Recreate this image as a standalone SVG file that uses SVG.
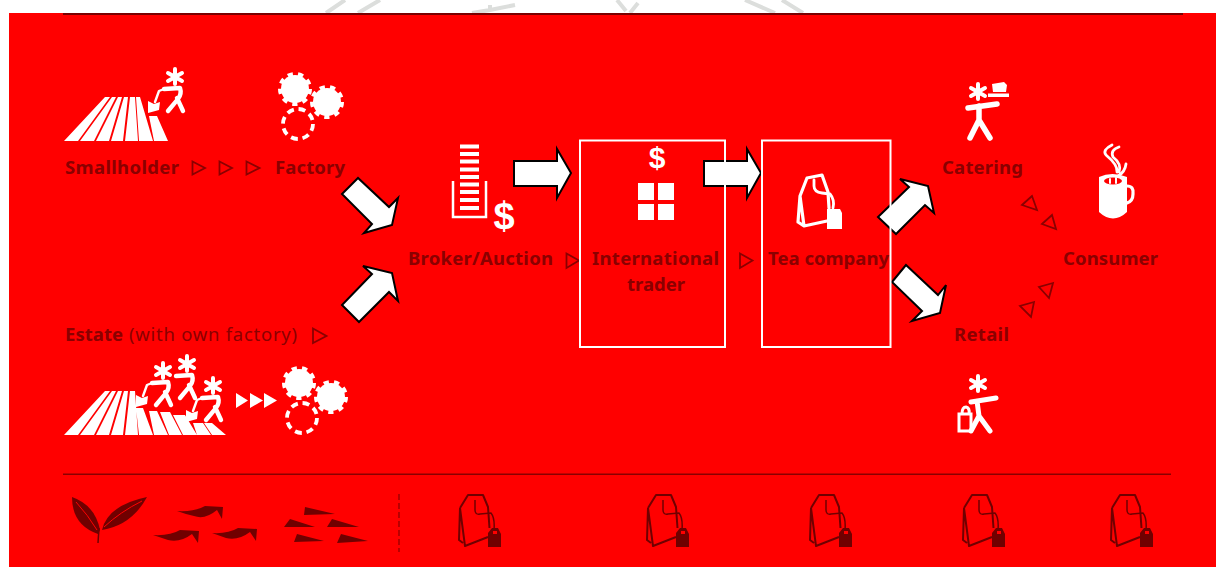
<svg xmlns="http://www.w3.org/2000/svg" xmlns:xlink="http://www.w3.org/1999/xlink" width="1216" height="567" viewBox="0 0 1216 567">
<style>
text{font-family:"Noto Sans","Open Sans","DejaVu Sans",sans-serif;font-size:18.5px;fill:#8a0000}
.b{font-weight:700}
.n{font-weight:400}
.d{font-family:"Liberation Sans",Arial,sans-serif;font-weight:700;fill:#fff}
.big{fill:#fff;stroke:#000;stroke-width:2;stroke-linejoin:miter}
.tri{fill:none;stroke:#8a0000;stroke-width:1.800}
.w{fill:#fff;stroke:none}
.ws{fill:none;stroke:#fff;stroke-linecap:round;stroke-linejoin:round}
.box{fill:none;stroke:#fff;stroke-width:2}
.df{fill:#700000;stroke:none}
.ds{fill:none;stroke:#700000;stroke-linejoin:round}
</style>
<defs>
<g id="star"><path class="ws" stroke-width="4" d="M0-8V7M-7-4L7 4M-7 4L7-4"/><circle class="w" r="4"/></g>
<g id="gear"><circle class="w" r="14"/><circle cx="0" cy="0" r="15" fill="none" stroke="#fff" stroke-width="4" stroke-dasharray="5.240 5.230"/></g>
<circle id="dashgear" r="15" fill="none" stroke="#fff" stroke-width="3.800" stroke-dasharray="7 4.800"/>
<g id="worker"><use xlink:href="#star"/><path class="ws" stroke-width="4.400" d="M-11 12L5 11Q7 17 3 22L-7 34M2 21L8 34"/></g>
<g id="spade"><path class="ws" stroke-width="2.400" d="M-11 12L-16 14L-20 25"/><path class="w" d="M-27 24L-21 27L-15 25L-16 33L-27 36Z"/></g>
<g id="bag">
<path class="ds" stroke-width="2" d="M460 508L468 495H483L488 507L489.500 528M460 508L459 540L463 543M460 508L465 546L488 537"/>
<path class="ds" stroke-width="1.500" d="M475 500V510Q475 515 480 514L491 513Q495 518 494 530"/>
<path class="df" fill-rule="evenodd" d="M492 528H498L501 534V547H488V533ZM493 531V534H497V531Z"/>
</g>
</defs>
<rect width="1216" height="567" fill="#fff"/>
<path d="M326 13L345 0M358 13L380 0M472 13L490 10L515 5M490 5V12M617 0L626 11M630 13L638 3M745 0L775 13M782 0L803 13" stroke="#dcdedc" stroke-width="4" fill="none"/>
<rect x="9" y="13" width="1207" height="554" fill="#f00"/>
<rect x="63" y="13" width="1120" height="2" fill="#7a0000"/>
<rect x="63" y="473.500" width="1108" height="1.500" fill="#8a0000"/>
<path d="M399 494V552" stroke="#8a0000" stroke-width="1.200" stroke-dasharray="6 3" fill="none"/>

<g id="connectors">
<path class="big" d="M342 194L358 178L389 207L398 198L392 225L364 233L372 224Z"/>
<path class="big" d="M342 305L359 322L389 292L398 301L392 273L363 266L372 274Z"/>
<path class="big" d="M514 161H557V149L571 173L557 198V186H514Z"/>
<path class="big" d="M704 161H747V149L761 173L747 198V186H704Z"/>
<path class="big" d="M878 217L896 234L925 205L934 213L928 186L900 179L909 187Z"/>
<path class="big" d="M906 265L892 282L922 311L912 321L940 313L946 285L938 295Z"/>
<path class="tri" d="M192.500 161.500L205 168L192.500 174.500ZM219.500 161.500L232 168L219.500 174.500ZM246.500 161.500L259.500 168L246.500 174.500Z"/>
<path class="tri" d="M313 328.500L326.500 336L313 343Z"/>
<path class="tri" d="M566.500 253.500L579 260.500L566.500 268Z"/>
<path class="tri" d="M740 253.500L752.500 260.500L740 268Z"/>
<path class="tri" d="M1032 196L1022 205L1037 210ZM1052 215L1042 224L1056 229ZM1053 283L1039 287L1049 298ZM1034 302L1020 306L1031 317Z"/>
<path class="w" d="M236 393L248 400.500L236 408ZM250 393L263 400.500L250 408ZM264 393L277 400.500L264 408Z"/>
</g>

<g id="smallholder">
<path class="w" d="M64 141L105 97H110L78 141ZM80 141L112 97H116L94 141ZM96 141L118 97H122L109 141ZM111 141L124 97H128L123 141ZM125 141L130 97H135L138 141ZM139 141L136 97H140L153 141ZM154 141L149 116H157L168 141Z"/>
<use xlink:href="#worker" x="175" y="77"/><use xlink:href="#spade" x="175" y="77"/>
<text class="b" x="65" y="174" textLength="114" lengthAdjust="spacing">Smallholder</text>
</g>
<g id="factory">
<use xlink:href="#gear" x="295" y="89"/><use xlink:href="#gear" x="327" y="102"/><use xlink:href="#dashgear" x="298" y="124"/>
<text class="b" x="275" y="174" textLength="70" lengthAdjust="spacing">Factory</text>
</g>
<g id="estate">
<path class="w" d="M64 435L105 391H110L78 435ZM80 435L112 391H116L94 435ZM96 435L118 391H122L109 435ZM111 435L124 391H128L123 435ZM125 435L130 391H135L138 435ZM139 435L136 408H143L153 435ZM154 435L149 411H157L168 435ZM169 435L160 412H170L182 435ZM183 435L173 415H185L197 435ZM197 435L193 423H203L211 435ZM212 435L204 423H212L226 435Z"/>
<use xlink:href="#worker" x="163" y="371"/><use xlink:href="#spade" x="163" y="371"/>
<use xlink:href="#worker" x="187" y="364"/>
<use xlink:href="#worker" x="213" y="386"/><use xlink:href="#spade" x="213" y="386"/>
<use xlink:href="#gear" x="299" y="383"/><use xlink:href="#gear" x="331" y="397"/><use xlink:href="#dashgear" x="302" y="418"/>
<text class="b" x="65" y="341" textLength="58" lengthAdjust="spacing">Estate</text>
<text class="n" x="129" y="341" textLength="168" lengthAdjust="spacing">(with own factory)</text>
</g>
<g id="broker">
<path class="w" d="M460 144.500H479V148.500H460ZM460 152H479V156H460ZM460 159.500H479V163.500H460ZM460 167.500H479V171.500H460ZM460 175H479V179H460ZM460 182.500H479V186.500H460ZM460 190H479V194H460ZM460 198H479V202H460ZM460 206H479V210H460Z"/>
<path fill="none" stroke="#fff" stroke-width="2.500" d="M453 181V217H486V181"/>
<text class="d" x="504" y="229" text-anchor="middle" style="font-size:38px">$</text>
<text class="b" x="408" y="265" textLength="145" lengthAdjust="spacing">Broker/Auction</text>
</g>
<g id="trader">
<rect class="box" x="580" y="140.500" width="145" height="206.500"/>
<text class="d" x="657" y="168" text-anchor="middle" style="font-size:30px">$</text>
<path class="w" d="M638 183H654V200H638ZM658 183H674V200H658ZM638 204H654V220H638ZM658 204H674V220H658Z"/>
<text class="b" x="592" y="265" textLength="127" lengthAdjust="spacing">International</text>
<text class="b" x="627" y="291" textLength="58" lengthAdjust="spacing">trader</text>
</g>
<g id="teacompany">
<rect class="box" x="762" y="140.500" width="128.500" height="206.500"/>
<path class="ws" stroke-width="3.200" d="M798 222L800 196L807 178L822 175L828 192L829 208M798 222L804 226L827 221M800 196L804 226"/>
<path class="ws" stroke-width="2.800" d="M814 180V186Q814 192 822 193L830 194Q835 200 833 208"/>
<path class="w" d="M827 209H840L842 213V229H827Z"/>
<text class="b" x="768" y="265" textLength="121" lengthAdjust="spacing">Tea company</text>
</g>
<g id="catering">
<use xlink:href="#star" x="978" y="92"/>
<path class="w" d="M992 84L1004 82L1007 85L1006 92H993ZM988 93.500H1009V97H988Z"/>
<path class="ws" stroke-width="5.500" d="M968 108L997 104M979 106V120L970 138M979 120L990 138"/>
<text class="b" x="942" y="174" textLength="81" lengthAdjust="spacing">Catering</text>
</g>
<g id="consumer">
<path class="ws" stroke-width="2.800" d="M1112 145Q1102 150 1106 155Q1118 165 1117 172M1119 147Q1110 150 1113 157Q1122 164 1119 172M1126 164Q1125 172 1118 176"/>
<path class="w" d="M1099 177Q1112 171 1127 177V212Q1113 225 1099 212Z"/>
<path class="ws" stroke-width="3.200" d="M1127 186Q1134 186 1133 194Q1133 201 1127 203"/>
<ellipse cx="1113" cy="181" rx="9" ry="3.500" fill="#f00"/>
<path class="ws" stroke-width="2" d="M1110 179V183M1116 178V183"/>
<text class="b" x="1063" y="265" textLength="95" lengthAdjust="spacing">Consumer</text>
</g>
<g id="retail">
<use xlink:href="#star" x="978" y="384"/>
<path class="ws" stroke-width="5" d="M971 402L996 398M977 401L979 416L971 431M979 416L990 431"/>
<path fill="none" stroke="#fff" stroke-width="3" d="M959 414H971V431H959ZM962 414Q962 407 966 407Q970 408 969 414"/>
<text class="b" x="954" y="341" textLength="55" lengthAdjust="spacing">Retail</text>
</g>
<g id="leaves">
<path class="df" d="M72 497Q95 505 100 530L98 534Q72 525 72 497Z"/>
<path class="df" d="M147 497Q132 525 102 530Q108 505 147 497Z"/>
<path d="M76 502Q88 515 97 530M142 501Q120 512 104 527" stroke="#f00" stroke-width="1" fill="none"/>
<path d="M99 528L98 543" stroke="#700000" stroke-width="1.500" fill="none"/>
<path class="df" d="M177 511Q195 512 205 506L223 507L222 519L217 510Q205 520 194 516Q185 514 177 511Z"/>
<path class="df" d="M153 535Q170 536 180 530L199 531L198 543L192 534Q180 543 168 540Z"/>
<path class="df" d="M212 533Q228 534 238 528L257 529L256 541L250 532Q238 541 226 538Z"/>
<path class="df" d="M305 507L335 514L304 515ZM284 527L315 527L290 519ZM327 527L359 527L332 519ZM294 542L324 541L297 534ZM337 543L368 541L341 534Z"/>
</g>
<g id="bags">
<use xlink:href="#bag"/>
<use xlink:href="#bag" x="188"/>
<use xlink:href="#bag" x="351"/>
<use xlink:href="#bag" x="504"/>
<use xlink:href="#bag" x="652"/>
</g>
</svg>
